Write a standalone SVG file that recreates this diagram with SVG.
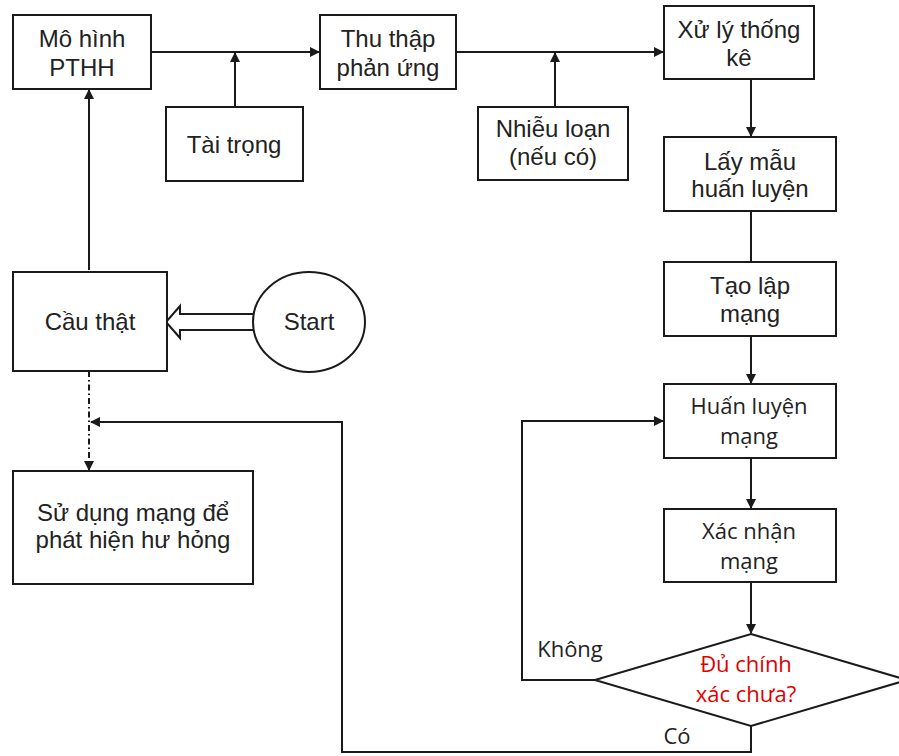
<svg xmlns="http://www.w3.org/2000/svg" width="899" height="756" viewBox="0 0 899 756">
<defs>
<style>
.box{fill:#fff;stroke:#1a1a1a;stroke-width:2}
.ln{fill:none;stroke:#1a1a1a;stroke-width:2}
.t{font-family:"Liberation Sans",Arial,sans-serif;font-size:24px;fill:#222;text-anchor:middle}
.c{font-family:"Open Sans","Liberation Sans",sans-serif;font-size:22px;fill:#222;text-anchor:middle}
.red{fill:#e00000}
</style>
<marker id="ah" viewBox="0 0 10 10" refX="9" refY="5" markerWidth="5" markerHeight="5" orient="auto">
<path d="M0,0 L10,5 L0,10 z" fill="#1a1a1a"/>
</marker>
</defs>
<rect width="899" height="756" fill="#fff"/>
<g id="connectors">
<path class="ln" d="M151,52 H319" marker-end="url(#ah)"/>
<path class="ln" d="M235,107 V53" marker-end="url(#ah)"/>
<path class="ln" d="M456,52 H663" marker-end="url(#ah)"/>
<path class="ln" d="M555,107 V53" marker-end="url(#ah)"/>
<path class="ln" d="M751,79 V136" marker-end="url(#ah)"/>
<path class="ln" d="M751,211 V262"/>
<path class="ln" d="M751,336 V383" marker-end="url(#ah)"/>
<path class="ln" d="M751,458 V508" marker-end="url(#ah)"/>
<path class="ln" d="M751,582 V633" marker-end="url(#ah)"/>
<path class="ln" d="M595,680 H522 V421 H663" marker-end="url(#ah)"/>
<path class="ln" d="M751,726 V752 H342 V422 H91" marker-end="url(#ah)"/>
<path class="ln" d="M89,270 V90" marker-end="url(#ah)"/>
<path class="ln" d="M89,371 V470" stroke-dasharray="6,3,1.5,3" marker-end="url(#ah)"/>
<path d="M253,314 H180 V306 L166,322 L180,338 V330 H253" fill="#fff" stroke="#1a1a1a" stroke-width="2"/>
</g>
<g id="mo-hinh"><rect class="box" x="13" y="15" width="138" height="74"/><text class="t" x="82" y="47">Mô hình</text><text class="t" x="82" y="76">PTHH</text></g>
<g id="tai-trong"><rect class="box" x="166" y="107" width="137" height="74"/><text class="t" x="234" y="153">Tài trọng</text></g>
<g id="thu-thap"><rect class="box" x="320" y="15" width="136" height="74"/><text class="t" x="388" y="47">Thu thập</text><text class="t" x="388" y="76">phản ứng</text></g>
<g id="nhieu-loan"><rect class="box" x="478" y="107" width="150" height="73"/><text class="t" x="553" y="137">Nhiễu loạn</text><text class="t" x="553" y="165">(nếu có)</text></g>
<g id="xu-ly"><rect class="box" x="664" y="6" width="150" height="73"/><text class="t" x="739" y="38">Xử lý thống</text><text class="t" x="739" y="66">kê</text></g>
<g id="lay-mau"><rect class="box" x="664" y="137" width="172" height="74"/><text class="t" x="750" y="170">Lấy mẫu</text><text class="t" x="750" y="197">huấn luyện</text></g>
<g id="tao-lap"><rect class="box" x="664" y="262" width="172" height="74"/><text class="t" x="750" y="294">Tạo lập</text><text class="t" x="750" y="322">mạng</text></g>
<g id="huan-luyen"><rect class="box" x="664" y="384" width="172" height="74"/><text class="c" x="749" y="414">Huấn luyện</text><text class="c" x="749" y="444">mạng</text></g>
<g id="xac-nhan"><rect class="box" x="664" y="509" width="172" height="73"/><text class="c" x="749" y="539">Xác nhận</text><text class="c" x="749" y="569">mạng</text></g>
<g id="du-chinh-xac"><path class="box" d="M751,634 L907,680 L751,726 L595,680 Z"/><text class="c red" x="746" y="672">Đủ chính</text><text class="c red" x="746" y="702">xác chưa?</text></g>
<g id="khong-label"><text class="c" x="570" y="657">Không</text></g>
<g id="co-label"><text class="c" x="677" y="744">Có</text></g>
<g id="cau-that"><rect class="box" x="13" y="272" width="154" height="99"/><text class="t" x="90" y="330">Cầu thật</text></g>
<g id="start"><ellipse class="box" cx="309" cy="322" rx="56" ry="50"/><text class="t" x="309" y="330">Start</text></g>
<g id="su-dung"><rect class="box" x="13" y="471" width="240" height="113"/><text class="t" x="133" y="521">Sử dụng mạng để</text><text class="t" x="133" y="548">phát hiện hư hỏng</text></g>
</svg>
